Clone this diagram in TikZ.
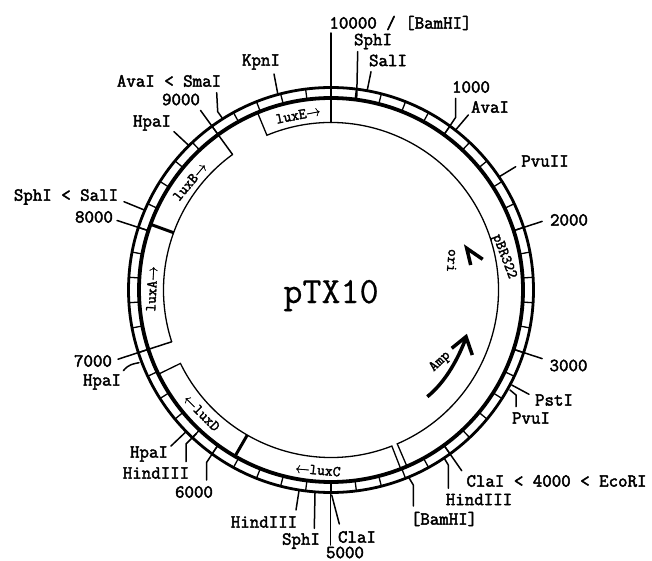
\documentclass[tikz,border=0pt]{standalone}
\usepackage{fontspec}
\newfontfamily\labfont[FakeBold=2.4]{Latin Modern Mono}
\newfontfamily\genefont[FakeBold=2.2]{Latin Modern Mono}
\newfontfamily\bigfont[FakeBold=0.5]{Latin Modern Mono}
\newfontfamily\arrfont[FakeBold=2]{Latin Modern Roman}
\newcommand{\rarr}{{\arrfont\fontsize{15}{16}\selectfont →}}
\newcommand{\larr}{{\arrfont\fontsize{15}{16}\selectfont ←}}
\tikzset{
  lab/.style={font=\fontsize{18.4}{20}\labfont, inner sep=0pt, text=black},
  gene/.style={font=\fontsize{15}{16}\genefont, inner sep=0pt, text=black},
  ptr/.style={line width=1.5pt, line cap=round, line join=round},
  tick/.style={line width=1.3pt},
  ring/.style={line width=1.3pt},
  heavy/.style={line width=3.5pt, line join=miter},
}
\begin{document}
\begin{tikzpicture}[x=1pt,y=1pt,yscale=-1]
\useasboundingbox (0,0) rectangle (652,561);
\fill[white] (0,0) rectangle (652,561);
\coordinate (c) at (331,290);
% ticks
\foreach \a in {0,7.2,...,359} {
  \draw[tick] ([shift={(\a-90:192)}]c) -- ([shift={(\a-90:202.5)}]c);
}
\draw[line width=2.8pt] (c) circle[radius=202.5pt];
\draw[line width=3.8pt] (c) circle[radius=192pt];
% inner arcs
\draw[ring] ([shift={(247.5:192)}]c) -- ([shift={(247.5:167.5)}]c)
  arc[start angle=247.5, end angle=426.7, radius=167.5pt] -- ([shift={(66.7:192)}]c);
\draw[ring] ([shift={(68.7:192)}]c) -- ([shift={(68.7:167.5)}]c)
  arc[start angle=68.7, end angle=154, radius=167.5pt] -- ([shift={(154:192)}]c);
\draw[ring] ([shift={(162:167.5)}]c) arc[start angle=162, end angle=234, radius=167.5pt];
% thick gene borders
\draw[line width=3pt] ([shift={(120:192)}]c) -- ([shift={(120:167.5)}]c);
\draw[line width=3pt] ([shift={(200:192)}]c) -- ([shift={(200:167.5)}]c);
% radial labelled ticks
\draw[ptr] ([shift={(-90:167.5)}]c) -- ([shift={(-90:257)}]c);
\draw[ptr] ([shift={(234:167.5)}]c) -- ([shift={(234:222)}]c);
\draw[ptr] ([shift={(162:167.5)}]c) -- ([shift={(162:224)}]c);
\draw[ptr] ([shift={(198:192)}]c) -- ([shift={(198:225)}]c);
\draw[ptr] ([shift={(-18:192)}]c) -- ([shift={(-18:222)}]c);
\draw[ptr] ([shift={(18:192)}]c) -- ([shift={(18:222)}]c);
% labels
\node[lab] (n10000) at (400.5,23) {10000 / [BamHI]};
\node[lab] (nsph1) at (373,41.5) {SphI};
\node[lab] (nsal1) at (388,60.5) {SalI};
\node[lab] (n1000) at (471,87) {1000};
\node[lab] (nava1) at (490,107) {AvaI};
\node[lab] (npvu2) at (545,161) {PvuII};
\node[lab] (n2000) at (569,220) {2000};
\node[lab] (n3000) at (568.5,365.5) {3000};
\node[lab] (npst) at (554,400) {PstI};
\node[lab] (npvu1) at (531,418) {PvuI};
\node[lab] (ncla4) at (556.5,481) {ClaI < 4000 < EcoRI};
\node[lab] (nhind4) at (479,499.5) {HindIII};
\node[lab] (nbam) at (444,519) {[BamHI]};
\node[lab] (ncla5) at (357,537) {ClaI};
\node[lab] (n5000) at (345,552.5) {5000};
\node[lab] (nsph5) at (301,541) {SphI};
\node[lab] (nhind5) at (264,522) {HindIII};
\node[lab] (n6000) at (194,492) {6000};
\node[lab] (nhind6) at (156,473) {HindIII};
\node[lab] (nhpa6) at (149,454) {HpaI};
\node[lab] (nhpa7) at (102,382) {HpaI};
\node[lab] (n7000) at (93,361) {7000};
\node[lab] (n8000) at (94,217) {8000};
\node[lab] (nsph8) at (66,197) {SphI < SalI};
\node[lab] (nhpa9) at (152,123) {HpaI};
\node[lab] (n9000) at (181,99.5) {9000};
\node[lab] (nava9) at (169,81) {AvaI < SmaI};
\node[lab] (nkpn) at (261,62) {KpnI};
\node[font=\fontsize{37}{40}\bigfont, inner sep=0pt, anchor=base] (ptx) at (331,303) {pTX10};
% pointers
\draw[ptr] (274,74) -- (278,95);
\draw[ptr] (216.7,92.7) -- (217.7,111.7) -- (222,117.7);
\draw[ptr] (174,131.7) -- (188.3,145);
\draw[ptr] (124,201.7) -- (144.3,210);
\draw[ptr] (123.3,370.7) .. controls (129,364) and (133,364) .. (139,362.7);
\draw[ptr] (171,446) -- (185,432.7);
\draw[ptr] (186,461.7) -- (186,444) -- (196.7,433.3);
\draw[ptr] (206.7,480) -- (206.7,462.3) -- (218,445);
\draw[ptr] (296,510) -- (299,490.7);
\draw[ptr] (314.3,528.3) -- (315,493);
\draw[ptr] (339.3,524) -- (331.7,495);
\draw[ptr] (330.5,545) -- (330.5,481);
\draw[ptr] (413.3,506) -- (413.3,485) -- (408.3,476.7);
\draw[ptr] (448.3,488.3) -- (448.3,465) -- (444.3,458.3);
\draw[ptr] (461.7,470.7) -- (444,445.3);
\draw[ptr] (516,406.7) -- (516,395) -- (510,390);
\draw[ptr] (529,394.3) -- (511.7,385);
\draw[ptr] (515.7,166.7) -- (499.3,176.7);
\draw[ptr] (468.3,115) -- (455,130.7);
\draw[ptr] (455.7,98.3) -- (455.7,117.3) -- (444,134.7);
\draw[ptr] (371,71.7) -- (367.3,90);
\draw[ptr] (357.7,51.7) -- (356.7,98);
% gene labels
\node[gene,rotate=11] (lE) at (298,115) {luxE\rarr};
\node[gene,rotate=50] (lB) at (190,181.7) {luxB\rarr};
\node[gene,rotate=87] (lA) at (151.7,289) {luxA\rarr};
\node[gene,rotate=-45] (lD) at (201.7,413) {\larr luxD};
\node[gene,rotate=-5] (lC) at (318,470) {\larr luxC};
\node[gene,rotate=-69] (lP) at (504,256.7) {pBR322};
\node[gene,rotate=-95] (lO) at (452.3,260.7) {ori};
\node[gene,rotate=43] (lAmp) at (440,361.7) {Amp};
% ori and Amp arrows
\draw[heavy] (482.7,259.3) -- (466.7,248.3) -- (470.7,265);
\draw[heavy] (427.3,396.7) .. controls (443,384) and (456,364) .. (466,338);
\draw[heavy] (451.7,348.3) -- (466,336.7) -- (472.3,355);
\end{tikzpicture}
\end{document}
